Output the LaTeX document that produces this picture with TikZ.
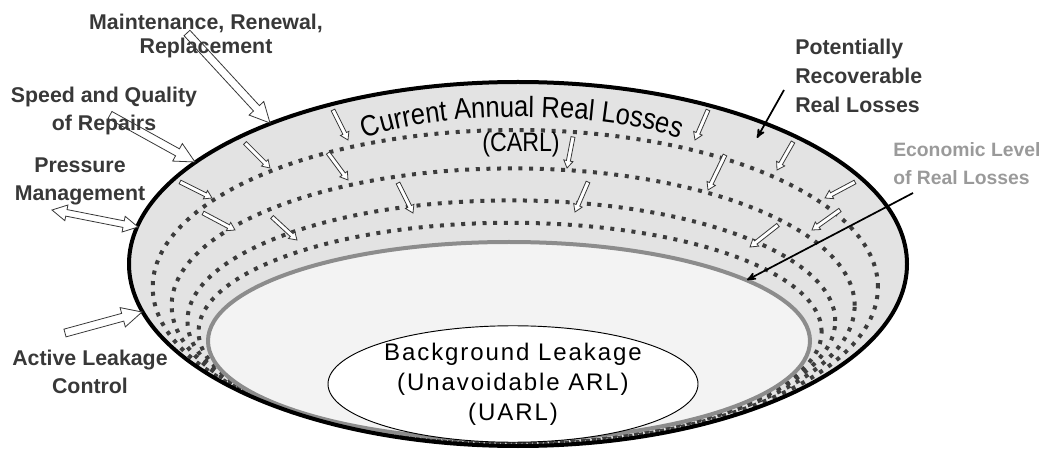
\documentclass[tikz,border=0pt]{standalone}
\usepackage{fontspec}
\setmainfont{Liberation Sans}
\usetikzlibrary{arrows,calc,shapes.geometric,decorations.text}
\definecolor{ringgray}{HTML}{E3E3E3}
\definecolor{floorgray}{HTML}{F3F3F3}
\definecolor{rimgray}{HTML}{8C8C8C}
\definecolor{dotgray}{HTML}{3C3C3C}
\definecolor{labelgray}{HTML}{383838}
\definecolor{econgray}{HTML}{9A9A9A}
% hollow block arrow: from, to, half shaft, half head, head length
\newcommand{\hollowarrow}[5]{%
  \draw[blockarrow] ($(#1)!#3!90:(#2)$) -- ($(#2)!#5!(#1)!#3!-90:(#1)$)
    -- ($(#2)!#5!(#1)!#4!-90:(#1)$) -- (#2) -- ($(#2)!#5!(#1)!#4!90:(#1)$)
    -- ($(#2)!#5!(#1)!#3!90:(#1)$) -- ($(#1)!#3!-90:(#2)$) -- cycle;}
% same, with a head at both ends
\newcommand{\hollowdoublearrow}[5]{%
  \draw[blockarrow] (#1) -- ($(#1)!#5!(#2)!#4!90:(#2)$) -- ($(#1)!#5!(#2)!#3!90:(#2)$)
    -- ($(#2)!#5!(#1)!#3!-90:(#1)$) -- ($(#2)!#5!(#1)!#4!-90:(#1)$) -- (#2)
    -- ($(#2)!#5!(#1)!#4!90:(#1)$) -- ($(#2)!#5!(#1)!#3!90:(#1)$)
    -- ($(#1)!#5!(#2)!#3!-90:(#2)$) -- ($(#1)!#5!(#2)!#4!-90:(#2)$) -- cycle;}
\tikzset{
    %Define standard arrow tip
    >=stealth',
    %Define style for the bowl
    rim/.style={
           draw=black, line width=3pt},
    dotring/.style={
           draw=dotgray, line width=3pt,
           dash pattern=on 3pt off 5pt},
    floor/.style={
           draw=rimgray, line width=3pt,
           fill=floorgray},
    %Define style for labels
    lbl/.style={
           font=\bfseries\fontsize{16}{21}\selectfont,
           text=labelgray,
           inner sep=0pt},
    % Define arrow styles
    blockarrow/.style={
           draw=labelgray, line width=0.6pt,
           fill=white, line join=miter},
    pointer/.style={
           ->, draw=black, line width=1.3pt}
}
\begin{document}
\begin{tikzpicture}[x=0.75pt,y=0.75pt]
\useasboundingbox (0,0) rectangle (1042,450);
 %bowl
\fill[ringgray] (518,186) ellipse [x radius=389, y radius=182];
\foreach \t in {0.30,0.54,0.74,0.88}
  \draw[dotring] ({518-9*\t},{186-77*\t}) ellipse [x radius={389-88*\t}, y radius={182-83*\t}];
\draw[floor] (509,109) ellipse [x radius=301, y radius=99];
\draw[rim] (518,186) ellipse [x radius=389, y radius=182];

\node[ellipse, draw=black, line width=0.7pt, fill=white,
      minimum width=277.5pt, minimum height=87pt, inner sep=0pt,
      align=center, font=\fontsize{18}{22.5}\selectfont\addfontfeature{LetterSpace=8}]
      (uarl) at (513,66) {Background Leakage\\(Unavoidable ARL)\\(UARL)};

 %small arrows inside the ring
\foreach \ax/\ay/\bx/\by in {333/340/348/310, 245/307/270/282, 328/297/348/270,
    180/268/212/252, 203/237/235/220, 272/233/297/210, 398/267/413/237,
    573/313/567/282, 588/268/575/238, 708/340/695/310, 725/295/708/260,
    793/308/777/280, 855/268/825/252, 840/240/812/220, 778/225/750/203}
  {\hollowarrow{\ax,\ay}{\bx,\by}{1.5pt}{3.5pt}{5.5pt}}

 %title along the rim
\path[decorate, decoration={text along path, text align=center,
      text={|\fontsize{22}{22}\selectfont\addfontfeature{FakeStretch=0.87}|Current Annual Real Losses}}]
      (360,309) .. controls (428,341) and (612,341) .. (684,309);
\node[font=\fontsize{20}{20}\selectfont\addfontfeature{FakeStretch=0.87}, inner sep=0pt] (carl) at (521,305) {(CARL)};

 %big arrows
\coordinate (maint-tail) at (187,417);
\coordinate (maint-tip) at (270,327);
\coordinate (speed-tail) at (110,335);
\coordinate (speed-tip) at (195,288);
\coordinate (press-out) at (52,240);
\coordinate (press-in) at (138,223);
\coordinate (alc-tail) at (65,117);
\coordinate (alc-tip) at (142,138);
\hollowarrow{maint-tail}{maint-tip}{3pt}{7.5pt}{15pt}
\hollowarrow{speed-tail}{speed-tip}{3pt}{7.5pt}{15pt}
\hollowdoublearrow{press-out}{press-in}{2.5pt}{6pt}{11pt}
\hollowarrow{alc-tail}{alc-tip}{3pt}{7.5pt}{15pt}

 %labels
\node[lbl, align=center, font=\bfseries\fontsize{16}{18}\selectfont] (maint) at (206,414) {Maintenance, Renewal,\\Replacement};
\node[lbl, align=center] (speed) at (104,339) {Speed and Quality\\of Repairs};
\node[lbl, align=center] (press) at (80,269) {Pressure\\Management};
\node[lbl, align=center] (alc) at (90,78) {Active Leakage\\Control};
\node[lbl, align=left, anchor=west, font=\bfseries\fontsize{16}{22}\selectfont] (prl) at (795,374) {Potentially\\Recoverable\\Real Losses};
\node[lbl, align=left, anchor=west, text=econgray, font=\bfseries\fontsize{14.5}{21}\selectfont] (elrl) at (893,286) {Economic Level\\of Real Losses};

\coordinate (prl-tail) at (784,360);
\coordinate (prl-tip) at (757,312);
\coordinate (elrl-tail) at (913,257);
\coordinate (elrl-tip) at (747,170);
\draw[pointer] (prl-tail) -- (prl-tip);
\draw[pointer] (elrl-tail) -- (elrl-tip);
\end{tikzpicture}
\end{document}
